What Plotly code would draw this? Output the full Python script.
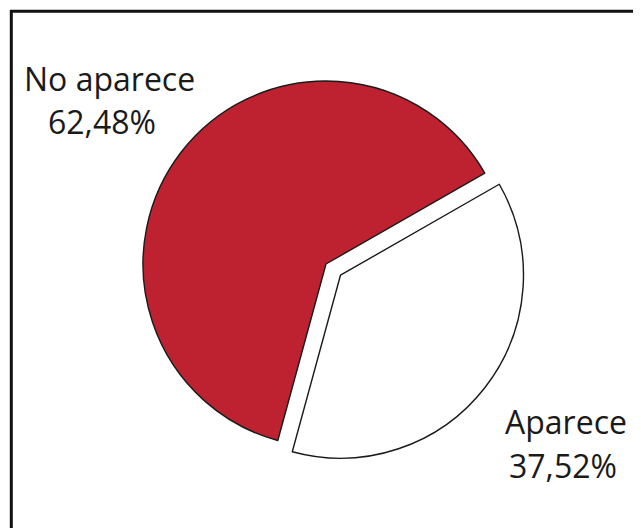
import plotly.graph_objects as go

labels = ["Aparece", "No aparece"]
values = [37.52, 62.48]
colors = ["#ffffff", "#be2231"]
pulls = [0.10, 0.0]
label_text = ["Aparece", "37,52%", "No aparece", "62,48%"]

# The page body has an 8px default margin, so the figure is drawn 8px in.
OFF = 8
W, H = 641 - OFF, 528 - OFF

def px(x):
    return (x - OFF) / W

def py(y):
    return (H - (y - OFF)) / H

fig = go.Figure()
fig.add_trace(go.Pie(
    labels=labels,
    values=values,
    sort=False,
    direction="clockwise",
    rotation=60.2,
    pull=pulls,
    marker=dict(colors=colors, line=dict(color="#1a1a1a", width=1.4)),
    textinfo="none",
    hoverinfo="label+percent",
    showlegend=False,
    domain=dict(x=[px(124.7), px(527.3)], y=[py(465.3), py(62.7)]),
))

font = dict(family="Open Sans, Noto Sans, sans-serif", size=32, color="#1a1a1a")
ann_pos = [(566, 421), (563, 465), (109.5, 79), (102, 121)]
for t, (x, y) in zip(label_text, ann_pos):
    fig.add_annotation(text=t, x=px(x), y=py(y), xref="paper", yref="paper",
                       xanchor="center", yanchor="middle", showarrow=False, font=font)

fig.add_shape(type="rect", xref="paper", yref="paper",
              x0=px(11.3), x1=1.05, y0=-0.05, y1=py(11.3),
              line=dict(color="#111111", width=3), fillcolor="rgba(0,0,0,0)")

fig.update_layout(width=W, height=H, margin=dict(l=0, r=0, t=0, b=0),
                  paper_bgcolor="#ffffff", plot_bgcolor="#ffffff")
fig.write_html("out.html")
